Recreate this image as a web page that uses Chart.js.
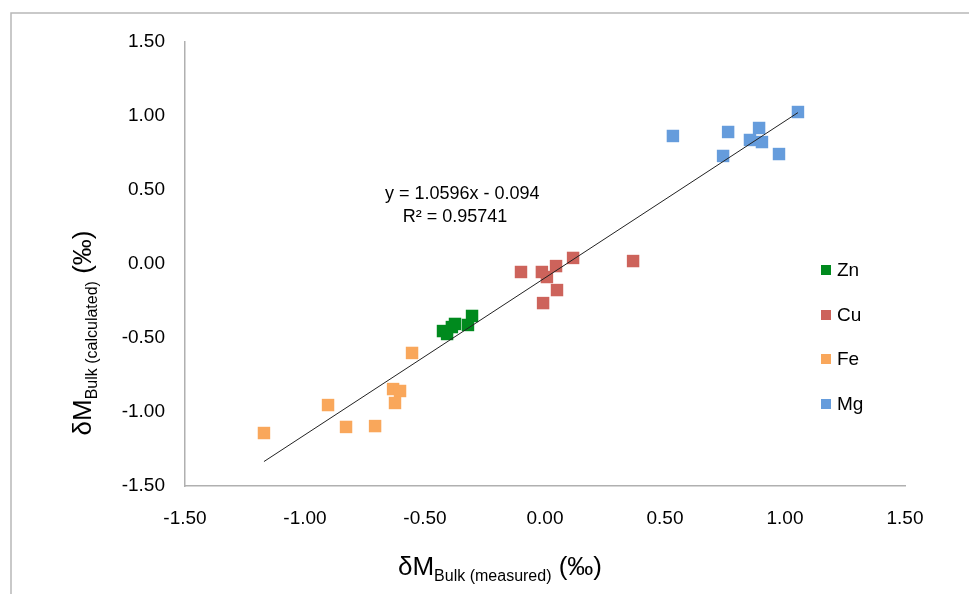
<!DOCTYPE html>
<html>
<head>
<meta charset="utf-8">
<script src="https://cdn.jsdelivr.net/npm/chart.js@4"></script>
<style>
  html, body { margin: 0; padding: 0; background: #fff; }
</style>
</head>
<body>
<canvas id="chart" width="969" height="594"></canvas>
<script>
const znX = [-0.425, -0.408, -0.388, -0.375, -0.321, -0.304];
const znY = [-0.453, -0.473, -0.426, -0.405, -0.412, -0.351];
const cuX = [-0.100, -0.013, 0.008, 0.046, 0.050, -0.008, 0.117, 0.367];
const cuY = [-0.054, -0.054, -0.088, -0.014, -0.176, -0.264, 0.041, 0.020];
const feX = [-1.171, -0.904, -0.829, -0.708, -0.554, -0.633, -0.604, -0.625];
const feY = [-1.142, -0.953, -1.101, -1.095, -0.601, -0.845, -0.858, -0.939];
const mgX = [0.533, 0.763, 0.742, 0.854, 0.892, 0.904, 0.975, 1.054];
const mgY = [0.865, 0.892, 0.730, 0.838, 0.919, 0.824, 0.743, 1.027];

const seriesNames = ['Zn', 'Cu', 'Fe', 'Mg'];
const seriesColors = ['#008a1e', '#cd635b', '#f9a75b', '#659cdc'];

// Droite de tendance affichée sur le graphique
const slope = 1.0596;
const intercept = -0.094;
const eqText = 'y = 1.0596x - 0.094';
const r2Text = 'R² = 0.95741';

const axisTicks = [-1.5, -1.0, -0.5, 0, 0.5, 1.0, 1.5];

const FONT = '"Liberation Sans", Arial, sans-serif';

function toPoints(xs, ys) {
    return xs.map((x, i) => ({ x: x, y: ys[i] }));
}

// Étendue de la droite = min/max des x mesurés
const allX = znX.concat(cuX, feX, mgX);
const xMin = Math.min(...allX);
const xMax = Math.max(...allX);
const trend = [
    { x: xMin, y: slope * xMin + intercept },
    { x: xMax, y: slope * xMax + intercept }
];

const groups = [[znX, znY], [cuX, cuY], [feX, feY], [mgX, mgY]];
const datasets = groups.map((g, i) => ({
    label: seriesNames[i],
    data: toPoints(g[0], g[1]),
    backgroundColor: seriesColors[i],
    borderColor: seriesColors[i],
    pointStyle: 'rect',
    pointRadius: 8.8,
    pointBorderWidth: 0,
    showLine: false
}));
datasets.push({
    label: 'trend',
    type: 'line',
    data: trend,
    borderColor: '#222',
    borderWidth: 1,
    pointRadius: 0,
    fill: false,
    order: -1
});

// Dessine le cadre, les titres d'axes (avec indice), la légende et l'équation
const decorations = {
    id: 'decorations',
    beforeDraw(chart) {
        const ctx = chart.ctx;
        ctx.save();
        ctx.fillStyle = '#fff';
        ctx.fillRect(0, 0, chart.width, chart.height);
        ctx.strokeStyle = '#b8b8b8';
        ctx.lineWidth = 1.5;
        ctx.strokeRect(11, 13, chart.width + 20, chart.height + 20);
        ctx.restore();
    },
    afterDraw(chart) {
        const ctx = chart.ctx;
        const xs = chart.scales.x;
        const ys = chart.scales.y;

        function richTitle(parts) {
            // parts: [texte, taille, décalage vertical]
            let w = 0;
            parts.forEach(p => { ctx.font = p[1] + 'px ' + FONT; w += ctx.measureText(p[0]).width; });
            let cx = -w / 2;
            parts.forEach(p => {
                ctx.font = p[1] + 'px ' + FONT;
                ctx.fillText(p[0], cx, p[2]);
                cx += ctx.measureText(p[0]).width;
            });
        }

        ctx.save();
        ctx.fillStyle = '#000';
        ctx.textBaseline = 'alphabetic';
        ctx.textAlign = 'left';

        // titre axe X
        ctx.save();
        ctx.translate(500, 575);
        richTitle([['δM', 26, 0], ['Bulk (measured)', 16, 6], [' (‰)', 26, 0]]);
        ctx.restore();

        // titre axe Y
        ctx.save();
        ctx.translate(91, 333);
        ctx.rotate(-Math.PI / 2);
        richTitle([['δM', 26, 0], ['Bulk (calculated)', 16, 6], [' (‰)', 26, 0]]);
        ctx.restore();

        // équation de la tendance
        ctx.font = '18px ' + FONT;
        ctx.textAlign = 'center';
        ctx.textBaseline = 'middle';
        ctx.fillText(eqText, xs.getPixelForValue(-0.345), ys.getPixelForValue(0.475));
        ctx.fillText(r2Text, xs.getPixelForValue(-0.375), ys.getPixelForValue(0.318));

        // légende
        ctx.textAlign = 'left';
        ctx.font = '19px ' + FONT;
        const legendY = [270, 315, 359, 404];
        seriesNames.forEach((name, i) => {
            ctx.fillStyle = seriesColors[i];
            ctx.fillRect(821, legendY[i] - 5, 10, 10);
            ctx.fillStyle = '#000';
            ctx.fillText(name, 837, legendY[i] + 1);
        });
        ctx.restore();
    }
};

const ctx = document.getElementById('chart').getContext('2d');
const myChart = new Chart(ctx, {
    type: 'scatter',
    data: { datasets: datasets },
    options: {
        responsive: false,
        animation: false,
        layout: { padding: { left: 0, top: 42, right: 64, bottom: 0 } },
        plugins: {
            legend: { display: false },
            tooltip: { enabled: false }
        },
        scales: {
            x: {
                type: 'linear',
                min: -1.5,
                max: 1.5,
                afterBuildTicks: s => { s.ticks = axisTicks.map(v => ({ value: v })); },
                afterFit: s => { s.height = 108; },
                grid: { display: false, drawTicks: false },
                border: { display: true, color: '#b0b0b0', width: 1.5 },
                ticks: {
                    padding: 21,
                    color: '#000',
                    font: { family: FONT, size: 19 },
                    callback: v => v.toFixed(2)
                }
            },
            y: {
                type: 'linear',
                min: -1.5,
                max: 1.5,
                afterBuildTicks: s => { s.ticks = axisTicks.map(v => ({ value: v })); },
                afterFit: s => { s.width = 185; },
                grid: { display: false, drawTicks: false },
                border: { display: true, color: '#b0b0b0', width: 1.5 },
                ticks: {
                    padding: 20,
                    color: '#000',
                    font: { family: FONT, size: 19 },
                    callback: v => v.toFixed(2)
                }
            }
        }
    },
    plugins: [decorations]
});
</script>
</body>
</html>
